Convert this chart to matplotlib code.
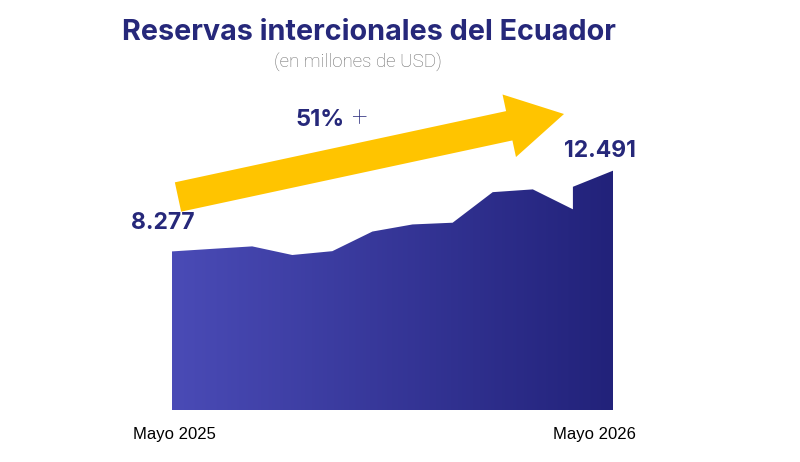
import numpy as np
import matplotlib
matplotlib.use("Agg")
import matplotlib.pyplot as plt
from matplotlib.patches import FancyArrow, Polygon
from matplotlib.colors import LinearSegmentedColormap

# monthly reserves (millions USD), the step near the end is a same-month jump
months = [0, 1, 2, 3, 4, 5, 6, 7, 8, 9, 10, 10, 11]
reserves = [8277, 8410, 8540, 8090, 8290, 9315, 9685, 9775, 11370, 11515, 10475, 11650, 12491]
x_labels = ["Mayo 2025", "Mayo 2026"]
first_label = "8.277"
last_label = "12.491"
growth_label = "51%"
title = "Reservas intercionales del Ecuador"
subtitle = "(en millones de USD)"

navy = "#26287a"
yellow = "#ffc400"

fig = plt.figure(figsize=(8, 4.62), dpi=100)

ax = fig.add_axes([172 / 800, 52 / 462, 441 / 800, 310 / 462])
ymax = 16180
ax.set_xlim(months[0], months[-1])
ax.set_ylim(0, ymax)
ax.axis("off")

# gradient fill clipped to the area shape
cmap = LinearSegmentedColormap.from_list("g", ["#4a4bb6", "#22227a"])
grad = np.linspace(0, 1, 256).reshape(1, -1)
img = ax.imshow(grad, cmap=cmap, aspect="auto",
                extent=[months[0], months[-1], 0, ymax], origin="lower")
verts = [(months[0], 0)] + list(zip(months, reserves)) + [(months[-1], 0)]
poly = Polygon(verts, closed=True, facecolor="none", edgecolor="none")
ax.add_patch(poly)
img.set_clip_path(poly)

# overlay in pixel coordinates for the decorations
ov = fig.add_axes([0, 0, 1, 1])
ov.set_xlim(0, 800)
ov.set_ylim(462, 0)
ov.axis("off")
ov.patch.set_alpha(0)

arrow = FancyArrow(178, 197, 564 - 178, 114 - 197, width=30, head_width=64,
                   head_length=56, length_includes_head=True,
                   color=yellow, linewidth=0)
ov.add_patch(arrow)

ov.text(369, 33, title, ha="center", va="center", fontsize=20.7,
        fontweight="bold", family="Inter", color=navy)
ov.text(358, 62, subtitle, ha="center", va="center", fontsize=13.5,
        fontweight="light", family="Roboto", color="#6c6c6c")

ov.text(163, 223, first_label, ha="center", va="center", fontsize=16.5,
        fontweight="bold", family="Inter", color=navy)
ov.text(600, 151, last_label, ha="center", va="center", fontsize=16.5,
        fontweight="bold", family="Inter", color=navy)
ov.text(345, 120, growth_label, ha="right", va="center", fontsize=17,
        fontweight="bold", family="Inter", color=navy)
ov.text(359, 119, "+", ha="center", va="center", fontsize=20,
        fontweight="light", family="Roboto", color=navy)

ov.text(133, 434, x_labels[0], ha="left", va="center", fontsize=12,
        family="Liberation Sans", color="black")
ov.text(636, 434, x_labels[1], ha="right", va="center", fontsize=12,
        family="Liberation Sans", color="black")

fig.savefig("out.png", dpi=100, facecolor="white")
